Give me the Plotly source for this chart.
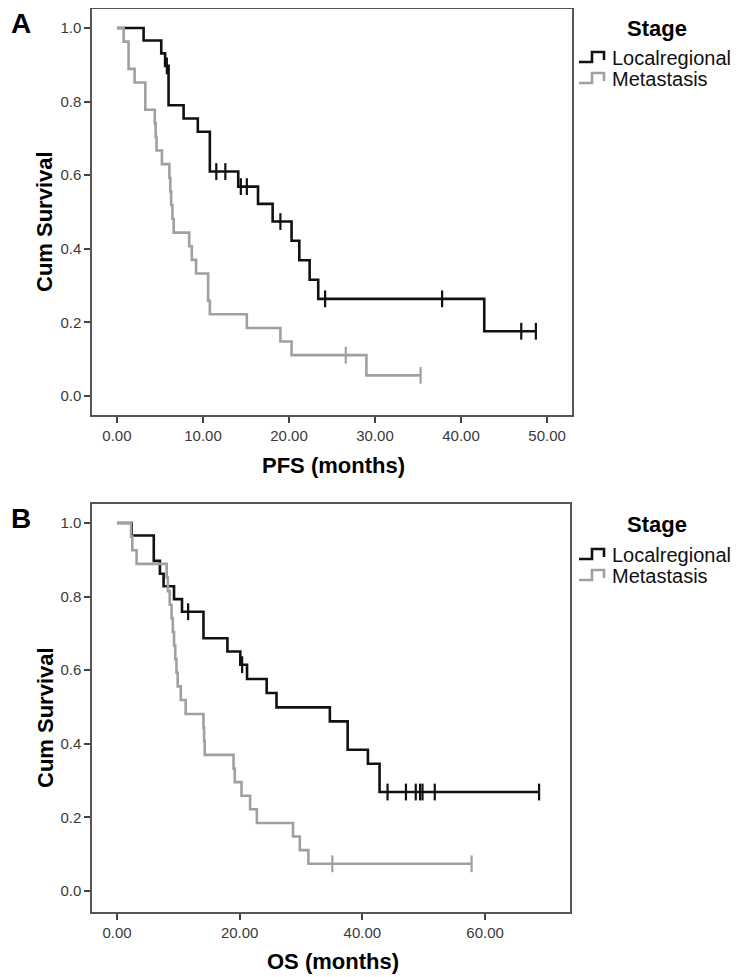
import plotly.graph_objects as go

# ---------------- data ----------------
# Panel A : PFS
pfs_local_t = [3.1, 5.15, 5.6, 6.0, 7.75, 9.4, 10.8, 14.1, 16.4, 18.1, 20.3, 21.2, 22.4, 23.4, 42.7]
pfs_local_s = [0.966, 0.931, 0.897, 0.790, 0.754, 0.718, 0.610, 0.569, 0.522, 0.474, 0.422, 0.369, 0.316, 0.264, 0.176]
pfs_local_cens_t = [5.8, 11.55, 12.6, 14.4, 15.1, 19.0, 24.2, 37.8, 47.0, 48.7]
pfs_local_cens_s = [0.897, 0.610, 0.610, 0.569, 0.569, 0.474, 0.264, 0.264, 0.176, 0.176]

pfs_meta_t = [0.78, 1.35, 2.05, 3.3, 4.4, 4.5, 4.6, 5.23, 6.1, 6.2, 6.3, 6.45, 6.6, 8.4, 8.7, 9.2,
              10.6, 10.8, 15.1, 19.0, 20.3, 29.0]
pfs_meta_s = [0.963, 0.889, 0.852, 0.778, 0.741, 0.704, 0.667, 0.630, 0.593, 0.556, 0.519, 0.481,
              0.444, 0.407, 0.370, 0.333, 0.259, 0.222, 0.185, 0.148, 0.111, 0.056]
pfs_meta_cens_t = [26.6, 35.3]
pfs_meta_cens_s = [0.111, 0.056]

# Panel B : OS
os_local_t = [2.4, 6.0, 7.0, 7.6, 9.3, 10.6, 14.1, 18.0, 20.1, 21.2, 24.4, 26.0, 34.7, 37.6, 40.9, 42.8]
os_local_s = [0.966, 0.897, 0.862, 0.828, 0.793, 0.759, 0.687, 0.651, 0.615, 0.576, 0.538, 0.499,
              0.461, 0.384, 0.346, 0.269]
os_local_cens_t = [11.6, 20.4, 44.1, 47.1, 48.7, 49.4, 49.8, 51.8, 68.8]
os_local_cens_s = [0.759, 0.615, 0.269, 0.269, 0.269, 0.269, 0.269, 0.269, 0.269]

os_meta_t = [2.3, 2.5, 3.2, 8.1, 8.3, 8.6, 8.9, 9.1, 9.3, 9.5, 9.7, 9.9, 10.4, 11.2, 14.1, 14.2, 14.3,
             19.0, 19.2, 20.3, 21.7, 22.8, 28.7, 29.8, 31.2]
os_meta_s = [0.963, 0.926, 0.889, 0.852, 0.815, 0.778, 0.741, 0.704, 0.667, 0.630, 0.593, 0.556,
             0.519, 0.481, 0.444, 0.407, 0.370, 0.333, 0.296, 0.259, 0.222, 0.185, 0.148, 0.111, 0.074]
os_meta_cens_t = [35.1, 57.8]
os_meta_cens_s = [0.074, 0.074]

x_ticks_a = [0, 10, 20, 30, 40, 50]
x_ticks_b = [0, 20, 40, 60]
y_ticks = [0.0, 0.2, 0.4, 0.6, 0.8, 1.0]
group_names = ["Localregional", "Metastasis"]

# ---------------- styling ----------------
W, H = 744, 977
OFF = 8  # page body margin in the browser
BLACK = "#111111"
GRAY = "#a0a0a0"
FONT = "Liberation Sans, Arial, sans-serif"


def px(x):
    return min(max((x - OFF) / W, 0.0), 1.0)


def py(y):
    return min(max(1 - (y - OFF) / H, 0.0), 1.0)


fig = go.Figure()


def add_curve(t, s, ct, cs, color, xa, ya):
    xs = [0] + list(t)
    ys = [1.0] + list(s)
    end_t = max(max(ct), xs[-1])
    xs.append(end_t)
    ys.append(ys[-1])
    fig.add_trace(go.Scatter(x=xs, y=ys, mode="lines", line=dict(color=color, width=2.6, shape="hv"),
                             xaxis=xa, yaxis=ya, showlegend=False, hoverinfo="skip"))
    fig.add_trace(go.Scatter(x=ct, y=cs, mode="markers",
                             marker=dict(symbol="line-ns", size=12, line=dict(color=color, width=2.2)),
                             xaxis=xa, yaxis=ya, showlegend=False, hoverinfo="skip"))


add_curve(pfs_local_t, pfs_local_s, pfs_local_cens_t, pfs_local_cens_s, BLACK, "x", "y")
add_curve(pfs_meta_t, pfs_meta_s, pfs_meta_cens_t, pfs_meta_cens_s, GRAY, "x", "y")
add_curve(os_local_t, os_local_s, os_local_cens_t, os_local_cens_s, BLACK, "x2", "y2")
add_curve(os_meta_t, os_meta_s, os_meta_cens_t, os_meta_cens_s, GRAY, "x2", "y2")

axis_common = dict(ticks="outside", ticklen=6, tickwidth=1.5, tickcolor="#444", showline=True, mirror=True,
                   linecolor="#555", linewidth=1.5, showgrid=False, zeroline=False,
                   tickfont=dict(family=FONT, size=15, color="#3a3a3a"))

fig.update_layout(
    width=W, height=H, margin=dict(l=0, r=0, t=0, b=0),
    paper_bgcolor="white", plot_bgcolor="white", showlegend=False,
    xaxis=dict(domain=[px(92), px(572)], range=[-2.9, 52.9], tickvals=x_ticks_a, tickformat=".2f",
               anchor="y", **axis_common),
    yaxis=dict(domain=[py(415), py(9)], range=[-0.0516, 1.0516], tickvals=y_ticks, tickformat=".1f",
               anchor="x", **axis_common),
    xaxis2=dict(domain=[px(92), px(570)], range=[-4.07, 73.84], tickvals=x_ticks_b, tickformat=".2f",
                anchor="y2", **axis_common),
    yaxis2=dict(domain=[py(912), py(504)], range=[-0.057, 1.0516], tickvals=y_ticks, tickformat=".1f",
                anchor="x2", **axis_common),
)

ann = []
shapes = []


def text(x, y, s, size, bold=False, xanchor="center", angle=0, color="#000"):
    ann.append(dict(x=px(x), y=py(y), xref="paper", yref="paper", text=f"<b>{s}</b>" if bold else s,
                    showarrow=False, xanchor=xanchor, yanchor="middle", textangle=angle,
                    font=dict(family=FONT, size=size, color=color)))


# panel letters
text(21, 23, "A", 28, bold=True)
text(21, 518, "B", 28, bold=True)
# axis titles
text(45, 222, "Cum Survival", 22, bold=True, angle=-90)
text(45, 718, "Cum Survival", 22, bold=True, angle=-90)
text(333, 466, "PFS (months)", 22, bold=True)
text(333, 961, "OS (months)", 22, bold=True)


def legend_block(y_title, y1, y2):
    text(657, y_title, "Stage", 22, bold=True)
    for yc, name, col in [(y1, group_names[0], BLACK), (y2, group_names[1], GRAY)]:
        text(610, yc, name, 20, xanchor="left", color="#111")
        pts = [(579, yc + 4), (592, yc + 4), (592, yc - 6), (604, yc - 6), (604, yc + 2)]
        path = "M " + " L ".join(f"{px(a):.5f},{py(b):.5f}" for a, b in pts)
        shapes.append(dict(type="path", path=path, xref="paper", yref="paper",
                           line=dict(color=col, width=2.6)))


legend_block(28, 58, 79)
legend_block(524, 555, 576)

fig.update_layout(annotations=ann, shapes=shapes)
fig.write_html("out.html")
